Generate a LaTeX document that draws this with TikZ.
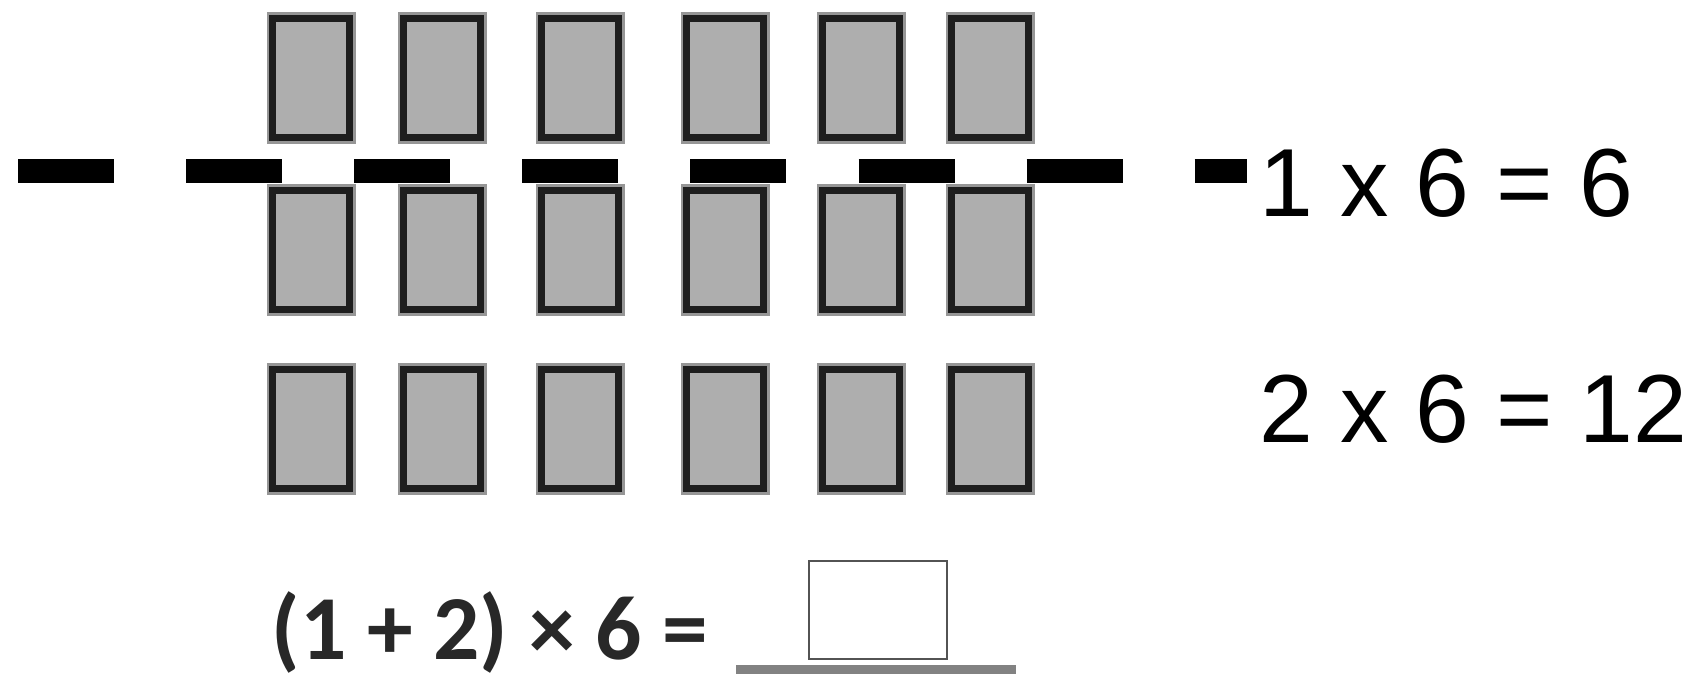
\documentclass[tikz,border=0pt]{standalone}
\usepackage{fontspec}
\setmainfont{Liberation Sans}
\newfontfamily\calfont{Carlito}
\usetikzlibrary{positioning}
\definecolor{cardgray}{RGB}{174,174,174}
\definecolor{cardedge}{RGB}{30,30,30}
\definecolor{halogray}{RGB}{150,150,150}
\definecolor{linegray}{RGB}{130,130,130}
\definecolor{inkgray}{RGB}{40,40,40}

\begin{document}
\begin{tikzpicture}[
    x=0.01cm, y=-0.01cm,
    card/.style={draw=cardedge, fill=cardgray, line width=1.8pt,
      minimum width=0.77cm, minimum height=1.19cm, inner sep=0pt,
      preaction={draw=halogray, line width=3.4pt}},
    cutline/.style={line width=0.24cm, line cap=butt, dash pattern=on 0.96cm off 0.72cm},
    eqtext/.style={anchor=base west, inner sep=0pt, font=\fontsize{27.5pt}{33pt}\selectfont},
    sumtext/.style={anchor=base west, inner sep=0pt, text=inkgray,
      font=\calfont\bfseries\fontsize{26pt}{31pt}\selectfont}
  ]
  \useasboundingbox (0,0) rectangle (1700,689);

  % three rows of six cards
  \foreach \c/\x in {1/311, 2/442, 3/580, 4/725, 5/861, 6/990} {
    \node[card] (top\c) at (\x,78) {};
    \node[card] (mid\c) at (\x,250) {};
    \node[card] (bot\c) at (\x,429) {};
  }

  % cut between first and second row
  \coordinate (cutl) at (18,171);
  \coordinate (cutr) at (1247,171);
  \draw[cutline] (cutl) -- (cutr);

  % products
  \node[eqtext] (eqone) at (1259,217) {1 x 6 = 6};
  \node[eqtext] (eqtwo) at (1259,443) {2 x 6 = 12};

  % combined sum with answer box
  \node[sumtext] (sum) at (271,660) {(1 + 2) × 6 =};
  \node[draw=inkgray!80, line width=0.6pt, minimum width=1.38cm, minimum height=0.98cm,
    inner sep=0pt] (ansbox) at (878,610) {};
  \coordinate (ulleft) at (736,670);
  \coordinate (ulright) at (1016,670);
  \draw[linegray, line width=0.09cm] (ulleft) -- (ulright);
\end{tikzpicture}
\end{document}
